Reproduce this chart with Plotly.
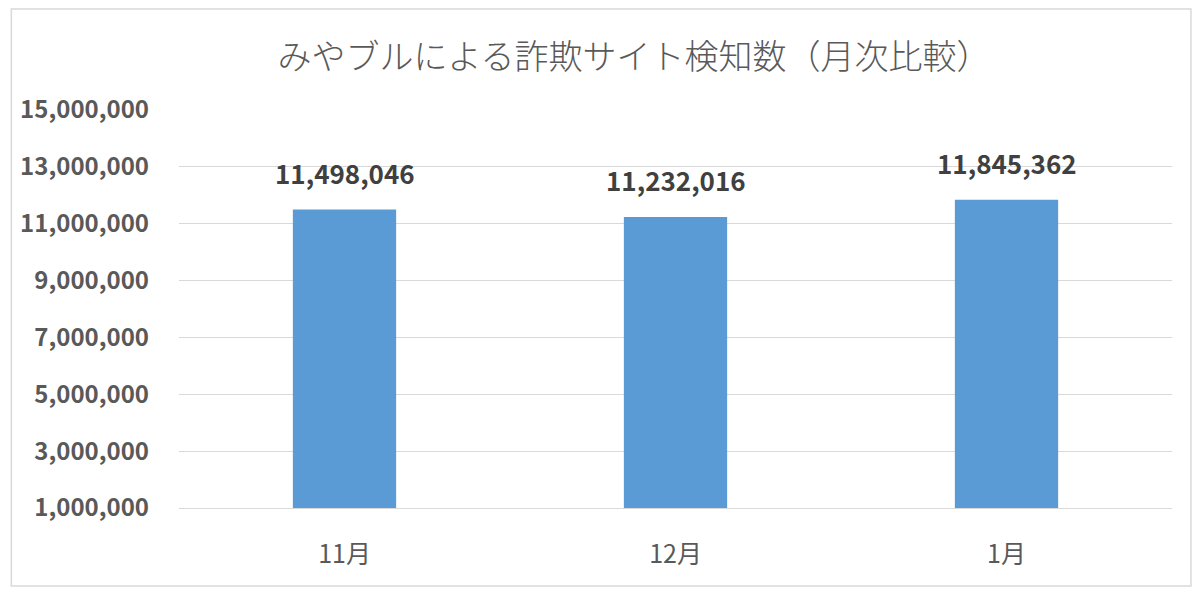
import plotly.graph_objects as go

# data
months = ["11月", "12月", "1月"]
detections = [11498046, 11232016, 11845362]
y_ticks = [1000000, 3000000, 5000000, 7000000, 9000000, 11000000, 13000000, 15000000]

# the page body keeps its default 8px margin, so the figure is drawn 16px
# smaller and every position is measured from (8, 8)
W, H = 1184, 579
L, R, T, B = 169, 20, 102, 79

fig = go.Figure()
fig.add_trace(go.Bar(
    x=months,
    y=detections,
    base=0,
    marker=dict(color="#5B9BD5", line=dict(width=0)),
    hoverinfo="x+y",
))

# data labels above each bar
for m, v in zip(months, detections):
    fig.add_annotation(
        x=m, y=v, text=f"{v:,}", showarrow=False,
        yanchor="bottom", yshift=17,
        font=dict(family="Noto Sans CJK JP", size=26, color="#404040", weight="bold"),
    )

# light grey frame around the chart area
pw = W - L - R
ph = H - T - B
fig.add_shape(
    type="rect", xref="paper", yref="paper",
    x0=-(L - 1) / pw, x1=1 + (R - 1) / pw,
    y0=-(B - 1) / ph, y1=1 + (T - 1) / ph,
    line=dict(color="#D9D9D9", width=1.5), layer="below",
)

fig.update_layout(
    width=W, height=H,
    margin=dict(l=L, r=R, t=T, b=B),
    paper_bgcolor="white", plot_bgcolor="white",
    bargap=0.688,
    showlegend=False,
    title=dict(
        text="みやブルによる詐欺サイト検知数（月次比較）",
        x=626 / W, xanchor="center", xref="container",
        y=1 - 49 / H, yanchor="middle", yref="container",
        font=dict(family="Noto Sans CJK JP", size=34, color="#595959", weight=300),
    ),
    font=dict(family="Noto Sans CJK JP", color="#595959"),
)

fig.update_yaxes(
    range=[1000000, 15000000],
    tickvals=y_ticks,
    tickformat=",",
    tickfont=dict(family="Noto Sans CJK JP", size=24, color="#595959", weight="bold"),
    showgrid=True, gridcolor="#D9D9D9", gridwidth=1,
    zeroline=False, showline=False,
    ticklabelstandoff=29,
)
fig.update_xaxes(
    tickfont=dict(family="Noto Sans CJK JP", size=25, color="#595959"),
    showline=True, linecolor="#D9D9D9", linewidth=1,
    showgrid=False,
    ticklabelstandoff=24,
)

fig.write_html("out.html")
